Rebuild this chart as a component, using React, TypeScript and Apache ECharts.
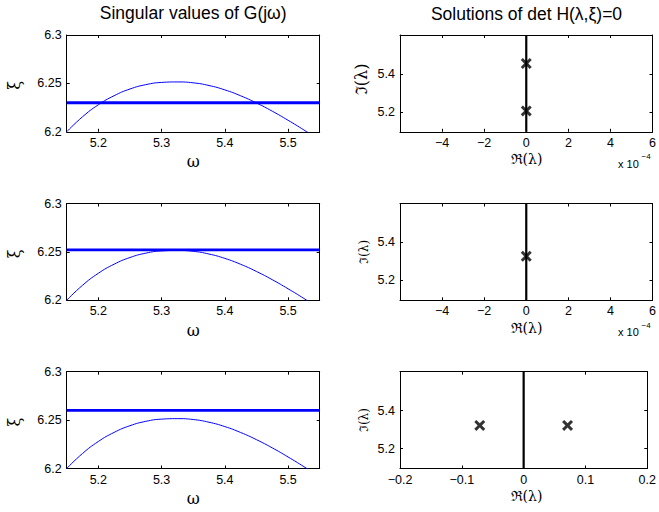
import React, { useEffect, useRef } from 'react';
import * as echarts from 'echarts';

// ---- data ----
const omega = [5.15, 5.175, 5.2, 5.225, 5.25, 5.275, 5.3, 5.325, 5.35, 5.375, 5.4, 5.425, 5.45, 5.475, 5.5, 5.525, 5.55];
const sigma = [6.2, 6.2155, 6.2279, 6.2373, 6.2442, 6.2487, 6.251, 6.2515, 6.2506, 6.2478, 6.2433, 6.2372, 6.2298, 6.2213, 6.2119, 6.2019, 6.1913];
const xiLevels = [6.23, 6.252, 6.26];
const rootRe = [[0, 0], [0], [-0.071, 0.071]];
const rootIm = [[5.455, 5.205], [5.327], [5.322, 5.322]];

const omegaRange = [5.15, 5.55];
const xiRange = [6.2, 6.3];
const imRange = [5.095, 5.605];
const reRangeSmall = [-6e-4, 6e-4];
const reRangeLarge = [-0.2, 0.2];

const omegaTicks = [5.2, 5.3, 5.4, 5.5];
const xiTicks = [6.2, 6.25, 6.3];
const imTicks = [5.2, 5.4];
const reTicksSmall = [-6e-4, -4e-4, -2e-4, 0, 2e-4, 4e-4, 6e-4];
const reLabelsSmall = [-4e-4, -2e-4, 0, 2e-4, 4e-4, 6e-4];
const reTicksLarge = [-0.2, -0.1, 0, 0.1, 0.2];

const titles = ['Singular values of G(jω)', 'Solutions of det H(λ,ξ)=0'];

// ---- layout ----
const rowTops = [35, 203.5, 371.7];
const rowH = 96.8;
const colLefts = [66.7, 400];
const colW = 253;

const SANS = 'Liberation Sans, Arial, sans-serif';
const SERIF = 'DejaVu Serif, Liberation Serif, serif';
const CROSS = 'path://M0,1.9L1.9,0L5,3.1L8.1,0L10,1.9L6.9,5L10,8.1L8.1,10L5,6.9L1.9,10L0,8.1L3.1,5Z';

const minus = (s: string) => s.replace('-', '\u2212');

function axis(gridIndex: number, position: string, range: number[], ticks: number[], labels: number[] | null, formatter?: (v: number) => string) {
  return {
    type: 'value',
    gridIndex,
    position,
    min: range[0],
    max: range[1],
    axisLine: { show: true, onZero: false, lineStyle: { color: '#000', width: 1 } },
    axisTick: { show: true, inside: true, length: 3, customValues: ticks, lineStyle: { color: '#000', width: 1 } },
    axisLabel: labels
      ? {
          show: true,
          customValues: labels,
          formatter: formatter || ((v: number) => minus(String(v))),
          color: '#000',
          fontSize: 12.5,
          fontFamily: SANS,
          margin: position === 'bottom' ? 4.5 : 5,
          showMinLabel: true,
          showMaxLabel: true,
        }
      : { show: false },
    splitLine: { show: false },
  };
}

export default function App() {
  const ref = useRef<HTMLDivElement>(null);
  useEffect(() => {
    document.body.style.margin = '0';
    const chart = echarts.init(ref.current!, undefined, { renderer: 'svg' });
    const grids: any[] = [];
    const xAxes: any[] = [];
    const yAxes: any[] = [];
    const series: any[] = [];
    const graphic: any[] = [];

    for (let r = 0; r < 3; r++) {
      for (let c = 0; c < 2; c++) {
        const g = grids.length;
        grids.push({ left: colLefts[c], top: rowTops[r], width: colW, height: rowH, containLabel: false });
        const xi = xAxes.length;
        const yi = yAxes.length;
        if (c === 0) {
          xAxes.push(axis(g, 'bottom', omegaRange, omegaTicks, omegaTicks));
          xAxes.push(axis(g, 'top', omegaRange, omegaTicks, null));
          yAxes.push(axis(g, 'left', xiRange, xiTicks, xiTicks));
          yAxes.push(axis(g, 'right', xiRange, xiTicks, null));
          series.push({
            type: 'line', xAxisIndex: xi, yAxisIndex: yi, data: omega.map((w, i) => [w, sigma[i]]),
            showSymbol: false, smooth: true, clip: true, lineStyle: { color: '#0000ff', width: 1 }, silent: true,
          });
          series.push({
            type: 'line', xAxisIndex: xi, yAxisIndex: yi,
            data: [[omegaRange[0], xiLevels[r]], [omegaRange[1], xiLevels[r]]],
            showSymbol: false, clip: true, lineStyle: { color: '#0000ff', width: 2.8 }, silent: true,
          });
        } else {
          const small = r < 2;
          const fmtSmall = (v: number) => minus(String(Math.round(v * 1e4)));
          xAxes.push(axis(g, 'bottom', small ? reRangeSmall : reRangeLarge, small ? reTicksSmall : reTicksLarge,
            small ? reLabelsSmall : reTicksLarge, small ? fmtSmall : undefined));
          xAxes.push(axis(g, 'top', small ? reRangeSmall : reRangeLarge, small ? reTicksSmall : reTicksLarge, null));
          yAxes.push(axis(g, 'left', imRange, imTicks, imTicks));
          yAxes.push(axis(g, 'right', imRange, imTicks, null));
          series.push({
            type: 'line', xAxisIndex: xi, yAxisIndex: yi,
            data: [[0, imRange[0]], [0, imRange[1]]],
            showSymbol: false, clip: true, lineStyle: { color: '#000', width: 2.2 }, silent: true,
          });
          series.push({
            type: 'scatter', xAxisIndex: xi, yAxisIndex: yi,
            data: rootRe[r].map((x, i) => [x, rootIm[r][i]]),
            symbol: CROSS, symbolSize: 11, itemStyle: { color: '#000' }, z: 5, silent: true,
          });
          if (small) {
            const baseY = rowTops[r] + rowH + 32;
            graphic.push({ type: 'text', x: 618, y: baseY, style: { text: 'x 10', fontSize: 11, fontFamily: SANS, fill: '#000', align: 'left', verticalAlign: 'middle' } });
            graphic.push({ type: 'text', x: 641.5, y: baseY - 7, style: { text: '\u22124', fontSize: 8, fontFamily: SANS, fill: '#000', align: 'left', verticalAlign: 'middle' } });
          }
        }
        // axis names
        const cx = colLefts[c] + colW / 2;
        const cy = rowTops[r] + rowH / 2;
        if (c === 0) {
          graphic.push({ type: 'text', x: cx, y: rowTops[r] + rowH + 30, style: { text: 'ω', fontSize: 16, fontFamily: SERIF, fill: '#000', align: 'center', verticalAlign: 'middle' } });
          graphic.push({ type: 'text', x: 14, y: cy + 2, rotation: Math.PI / 2, style: { text: 'ξ', fontSize: 16, fontFamily: SERIF, fill: '#000', align: 'center', verticalAlign: 'middle' } });
        } else {
          graphic.push({ type: 'text', x: cx, y: rowTops[r] + rowH + 27.5, style: { text: 'ℜ(λ)', fontSize: 14, fontFamily: SERIF, fill: '#000', align: 'center', verticalAlign: 'middle' } });
          graphic.push({ type: 'text', x: r === 0 ? 361 : 364, y: r === 0 ? cy - 4 : cy, rotation: Math.PI / 2, style: { text: 'ℑ(λ)', fontSize: r === 0 ? 16 : 12, fontFamily: SERIF, fill: '#000', align: 'center', verticalAlign: 'middle' } });
        }
      }
    }
    graphic.push({ type: 'text', x: colLefts[0] + colW / 2, y: 13, style: { text: titles[0], fontSize: 17.5, fontFamily: SANS, fill: '#000', align: 'center', verticalAlign: 'middle' } });
    graphic.push({ type: 'text', x: colLefts[1] + colW / 2, y: 14, style: { text: titles[1], fontSize: 17.5, fontFamily: SANS, fill: '#000', align: 'center', verticalAlign: 'middle' } });

    chart.setOption({
      animation: false,
      backgroundColor: '#fff',
      grid: grids,
      xAxis: xAxes,
      yAxis: yAxes,
      series,
      graphic,
    });
    return () => chart.dispose();
  }, []);
  return <div ref={ref} style={{ width: 659, height: 512 }} />;
}
